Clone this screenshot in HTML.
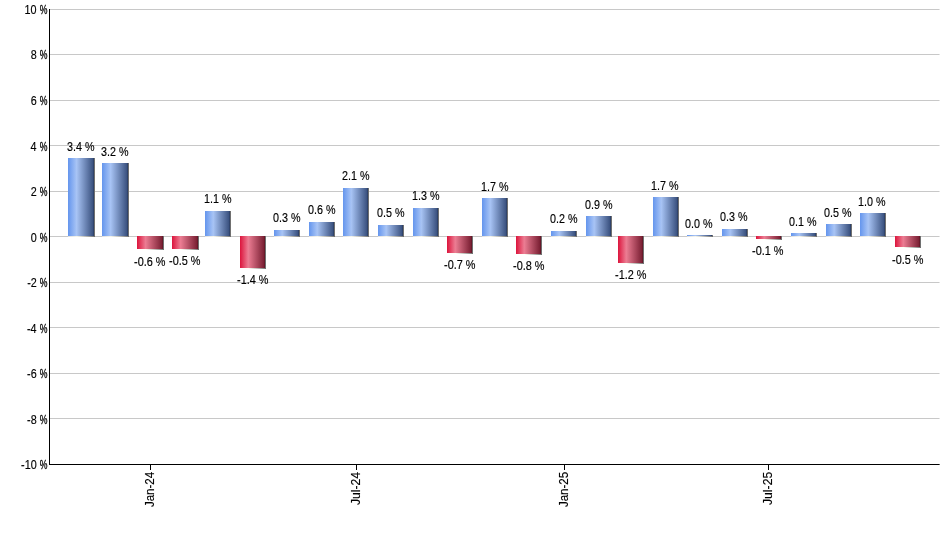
<!DOCTYPE html>
<html><head><meta charset="utf-8"><title>Chart</title>
<style>
html,body{margin:0;padding:0;background:#fff;}
svg{display:block}
text{font-family:"Liberation Sans",sans-serif;font-size:12px;fill:#000;stroke:#000;stroke-width:0.15px}
</style></head><body>
<svg width="940" height="550" viewBox="0 0 940 550">
<defs>
<linearGradient id="gb" x1="0" x2="1" y1="0" y2="0">
<stop offset="0" stop-color="#6495ed"/>
<stop offset="0.33" stop-color="#a8c4f5"/>
<stop offset="1" stop-color="#344b79"/>
</linearGradient>
<linearGradient id="gr" x1="0" x2="1" y1="0" y2="0">
<stop offset="0" stop-color="#dc143c"/>
<stop offset="0.33" stop-color="#ec7d93"/>
<stop offset="1" stop-color="#741a2e"/>
</linearGradient>
<linearGradient id="gs" x1="0" x2="1" y1="0" y2="0">
<stop offset="0" stop-color="#ffffff" stop-opacity="0.4"/>
<stop offset="0.33" stop-color="#fffff4" stop-opacity="0.8"/>
<stop offset="1" stop-color="#707070" stop-opacity="1"/>
</linearGradient>
</defs>
<rect width="940" height="550" fill="#fff"/>

<g shape-rendering="crispEdges">
<rect x="50" y="9" width="889" height="1" fill="#c8c8c8"/><rect x="939" y="9" width="1" height="1" fill="#e2e2e2"/>
<rect x="50" y="54" width="889" height="1" fill="#c8c8c8"/><rect x="939" y="54" width="1" height="1" fill="#e2e2e2"/>
<rect x="50" y="100" width="889" height="1" fill="#c8c8c8"/><rect x="939" y="100" width="1" height="1" fill="#e2e2e2"/>
<rect x="50" y="145" width="889" height="1" fill="#c8c8c8"/><rect x="939" y="145" width="1" height="1" fill="#e2e2e2"/>
<rect x="50" y="191" width="889" height="1" fill="#c8c8c8"/><rect x="939" y="191" width="1" height="1" fill="#e2e2e2"/>
<rect x="50" y="236" width="889" height="1" fill="#c8c8c8"/><rect x="939" y="236" width="1" height="1" fill="#e2e2e2"/>
<rect x="50" y="282" width="889" height="1" fill="#c8c8c8"/><rect x="939" y="282" width="1" height="1" fill="#e2e2e2"/>
<rect x="50" y="327" width="889" height="1" fill="#c8c8c8"/><rect x="939" y="327" width="1" height="1" fill="#e2e2e2"/>
<rect x="50" y="373" width="889" height="1" fill="#c8c8c8"/><rect x="939" y="373" width="1" height="1" fill="#e2e2e2"/>
<rect x="50" y="418" width="889" height="1" fill="#c8c8c8"/><rect x="939" y="418" width="1" height="1" fill="#e2e2e2"/>
</g>
<g shape-rendering="crispEdges">
<rect x="68" y="236" width="27" height="1" fill="url(#gs)"/>
<rect x="94" y="158" width="1" height="79" fill="#707070"/>
<rect x="68" y="158" width="26" height="78" fill="url(#gb)"/>
<rect x="93" y="158" width="1" height="78" fill="#000" fill-opacity="0.13"/>
<rect x="102" y="236" width="27" height="1" fill="url(#gs)"/>
<rect x="128" y="163" width="1" height="74" fill="#707070"/>
<rect x="102" y="163" width="26" height="73" fill="url(#gb)"/>
<rect x="127" y="163" width="1" height="73" fill="#000" fill-opacity="0.13"/>
<rect x="137" y="249" width="27" height="1" fill="url(#gs)"/>
<rect x="163" y="236" width="1" height="14" fill="#707070"/>
<rect x="137" y="236" width="26" height="13" fill="url(#gr)"/>
<rect x="162" y="236" width="1" height="13" fill="#000" fill-opacity="0.13"/>
<rect x="172" y="249" width="27" height="1" fill="url(#gs)"/>
<rect x="198" y="236" width="1" height="14" fill="#707070"/>
<rect x="172" y="236" width="26" height="13" fill="url(#gr)"/>
<rect x="197" y="236" width="1" height="13" fill="#000" fill-opacity="0.13"/>
<rect x="205" y="236" width="26" height="1" fill="url(#gs)"/>
<rect x="230" y="211" width="1" height="26" fill="#707070"/>
<rect x="205" y="211" width="25" height="25" fill="url(#gb)"/>
<rect x="229" y="211" width="1" height="25" fill="#000" fill-opacity="0.13"/>
<rect x="240" y="268" width="26" height="1" fill="url(#gs)"/>
<rect x="265" y="236" width="1" height="33" fill="#707070"/>
<rect x="240" y="236" width="25" height="32" fill="url(#gr)"/>
<rect x="264" y="236" width="1" height="32" fill="#000" fill-opacity="0.13"/>
<rect x="274" y="236" width="26" height="1" fill="url(#gs)"/>
<rect x="299" y="230" width="1" height="7" fill="#707070"/>
<rect x="274" y="230" width="25" height="6" fill="url(#gb)"/>
<rect x="298" y="230" width="1" height="6" fill="#000" fill-opacity="0.13"/>
<rect x="309" y="236" width="26" height="1" fill="url(#gs)"/>
<rect x="334" y="222" width="1" height="15" fill="#707070"/>
<rect x="309" y="222" width="25" height="14" fill="url(#gb)"/>
<rect x="333" y="222" width="1" height="14" fill="#000" fill-opacity="0.13"/>
<rect x="343" y="236" width="26" height="1" fill="url(#gs)"/>
<rect x="368" y="188" width="1" height="49" fill="#707070"/>
<rect x="343" y="188" width="25" height="48" fill="url(#gb)"/>
<rect x="367" y="188" width="1" height="48" fill="#000" fill-opacity="0.13"/>
<rect x="378" y="236" width="26" height="1" fill="url(#gs)"/>
<rect x="403" y="225" width="1" height="12" fill="#707070"/>
<rect x="378" y="225" width="25" height="11" fill="url(#gb)"/>
<rect x="402" y="225" width="1" height="11" fill="#000" fill-opacity="0.13"/>
<rect x="413" y="236" width="26" height="1" fill="url(#gs)"/>
<rect x="438" y="208" width="1" height="29" fill="#707070"/>
<rect x="413" y="208" width="25" height="28" fill="url(#gb)"/>
<rect x="437" y="208" width="1" height="28" fill="#000" fill-opacity="0.13"/>
<rect x="447" y="253" width="26" height="1" fill="url(#gs)"/>
<rect x="472" y="236" width="1" height="18" fill="#707070"/>
<rect x="447" y="236" width="25" height="17" fill="url(#gr)"/>
<rect x="471" y="236" width="1" height="17" fill="#000" fill-opacity="0.13"/>
<rect x="482" y="236" width="26" height="1" fill="url(#gs)"/>
<rect x="507" y="198" width="1" height="39" fill="#707070"/>
<rect x="482" y="198" width="25" height="38" fill="url(#gb)"/>
<rect x="506" y="198" width="1" height="38" fill="#000" fill-opacity="0.13"/>
<rect x="516" y="254" width="26" height="1" fill="url(#gs)"/>
<rect x="541" y="236" width="1" height="19" fill="#707070"/>
<rect x="516" y="236" width="25" height="18" fill="url(#gr)"/>
<rect x="540" y="236" width="1" height="18" fill="#000" fill-opacity="0.13"/>
<rect x="551" y="236" width="26" height="1" fill="url(#gs)"/>
<rect x="576" y="231" width="1" height="6" fill="#707070"/>
<rect x="551" y="231" width="25" height="5" fill="url(#gb)"/>
<rect x="575" y="231" width="1" height="5" fill="#000" fill-opacity="0.13"/>
<rect x="586" y="236" width="26" height="1" fill="url(#gs)"/>
<rect x="611" y="216" width="1" height="21" fill="#707070"/>
<rect x="586" y="216" width="25" height="20" fill="url(#gb)"/>
<rect x="610" y="216" width="1" height="20" fill="#000" fill-opacity="0.13"/>
<rect x="618" y="263" width="26" height="1" fill="url(#gs)"/>
<rect x="643" y="236" width="1" height="28" fill="#707070"/>
<rect x="618" y="236" width="25" height="27" fill="url(#gr)"/>
<rect x="642" y="236" width="1" height="27" fill="#000" fill-opacity="0.13"/>
<rect x="653" y="236" width="26" height="1" fill="url(#gs)"/>
<rect x="678" y="197" width="1" height="40" fill="#707070"/>
<rect x="653" y="197" width="25" height="39" fill="url(#gb)"/>
<rect x="677" y="197" width="1" height="39" fill="#000" fill-opacity="0.13"/>
<rect x="687" y="236" width="26" height="1" fill="url(#gs)"/>
<rect x="712" y="235" width="1" height="2" fill="#707070"/>
<rect x="687" y="235" width="25" height="1" fill="url(#gb)"/>
<rect x="711" y="235" width="1" height="1" fill="#000" fill-opacity="0.13"/>
<rect x="722" y="236" width="26" height="1" fill="url(#gs)"/>
<rect x="747" y="229" width="1" height="8" fill="#707070"/>
<rect x="722" y="229" width="25" height="7" fill="url(#gb)"/>
<rect x="746" y="229" width="1" height="7" fill="#000" fill-opacity="0.13"/>
<rect x="756" y="239" width="26" height="1" fill="url(#gs)"/>
<rect x="781" y="236" width="1" height="4" fill="#707070"/>
<rect x="756" y="236" width="25" height="3" fill="url(#gr)"/>
<rect x="780" y="236" width="1" height="3" fill="#000" fill-opacity="0.13"/>
<rect x="791" y="236" width="26" height="1" fill="url(#gs)"/>
<rect x="816" y="233" width="1" height="4" fill="#707070"/>
<rect x="791" y="233" width="25" height="3" fill="url(#gb)"/>
<rect x="815" y="233" width="1" height="3" fill="#000" fill-opacity="0.13"/>
<rect x="826" y="236" width="26" height="1" fill="url(#gs)"/>
<rect x="851" y="224" width="1" height="13" fill="#707070"/>
<rect x="826" y="224" width="25" height="12" fill="url(#gb)"/>
<rect x="850" y="224" width="1" height="12" fill="#000" fill-opacity="0.13"/>
<rect x="860" y="236" width="26" height="1" fill="url(#gs)"/>
<rect x="885" y="213" width="1" height="24" fill="#707070"/>
<rect x="860" y="213" width="25" height="23" fill="url(#gb)"/>
<rect x="884" y="213" width="1" height="23" fill="#000" fill-opacity="0.13"/>
<rect x="895" y="247" width="26" height="1" fill="url(#gs)"/>
<rect x="920" y="236" width="1" height="12" fill="#707070"/>
<rect x="895" y="236" width="25" height="11" fill="url(#gr)"/>
<rect x="919" y="236" width="1" height="11" fill="#000" fill-opacity="0.13"/>
</g>
<g shape-rendering="crispEdges">
<rect x="49" y="9" width="1" height="456" fill="#000"/>
<rect x="49" y="464" width="890" height="1" fill="#000"/><rect x="939" y="464" width="1" height="1" fill="#606060"/>
<rect x="150" y="464" width="1" height="6" fill="#000"/>
<rect x="356" y="464" width="1" height="6" fill="#000"/>
<rect x="564" y="464" width="1" height="6" fill="#000"/>
<rect x="768" y="464" width="1" height="6" fill="#000"/>
</g>
<text y="14"><tspan x="24.60" textLength="12.01" lengthAdjust="spacingAndGlyphs">10</tspan> <tspan x="39.63" textLength="7.68" lengthAdjust="spacingAndGlyphs" stroke-width="0.3">%</tspan></text>
<text y="59"><tspan x="30.67" textLength="6.01" lengthAdjust="spacingAndGlyphs">8</tspan> <tspan x="39.63" textLength="7.68" lengthAdjust="spacingAndGlyphs" stroke-width="0.3">%</tspan></text>
<text y="105"><tspan x="30.67" textLength="6.01" lengthAdjust="spacingAndGlyphs">6</tspan> <tspan x="39.63" textLength="7.68" lengthAdjust="spacingAndGlyphs" stroke-width="0.3">%</tspan></text>
<text y="151"><tspan x="30.56" textLength="6.01" lengthAdjust="spacingAndGlyphs">4</tspan> <tspan x="39.63" textLength="7.68" lengthAdjust="spacingAndGlyphs" stroke-width="0.3">%</tspan></text>
<text y="196"><tspan x="30.79" textLength="6.01" lengthAdjust="spacingAndGlyphs">2</tspan> <tspan x="39.63" textLength="7.68" lengthAdjust="spacingAndGlyphs" stroke-width="0.3">%</tspan></text>
<text y="242"><tspan x="30.67" textLength="6.01" lengthAdjust="spacingAndGlyphs">0</tspan> <tspan x="39.63" textLength="7.68" lengthAdjust="spacingAndGlyphs" stroke-width="0.3">%</tspan></text>
<text y="287"><tspan x="27.19" textLength="9.60" lengthAdjust="spacingAndGlyphs">-2</tspan> <tspan x="39.63" textLength="7.68" lengthAdjust="spacingAndGlyphs" stroke-width="0.3">%</tspan></text>
<text y="333"><tspan x="26.96" textLength="9.60" lengthAdjust="spacingAndGlyphs">-4</tspan> <tspan x="39.63" textLength="7.68" lengthAdjust="spacingAndGlyphs" stroke-width="0.3">%</tspan></text>
<text y="378"><tspan x="27.07" textLength="9.60" lengthAdjust="spacingAndGlyphs">-6</tspan> <tspan x="39.63" textLength="7.68" lengthAdjust="spacingAndGlyphs" stroke-width="0.3">%</tspan></text>
<text y="424"><tspan x="27.07" textLength="9.60" lengthAdjust="spacingAndGlyphs">-8</tspan> <tspan x="39.63" textLength="7.68" lengthAdjust="spacingAndGlyphs" stroke-width="0.3">%</tspan></text>
<text y="469"><tspan x="21.11" textLength="15.61" lengthAdjust="spacingAndGlyphs">-10</tspan> <tspan x="39.63" textLength="7.68" lengthAdjust="spacingAndGlyphs" stroke-width="0.3">%</tspan></text>
<text transform="translate(154,507.12) rotate(-90) scale(0.9600,1)">Jan-24</text>
<text transform="translate(360,505.03) rotate(-90) scale(1.0140,1)">Jul-24</text>
<text transform="translate(568,507.12) rotate(-90) scale(0.9633,1)">Jan-25</text>
<text transform="translate(772,505.03) rotate(-90) scale(1.0179,1)">Jul-25</text>
<text transform="translate(67.01,151) scale(0.8967,1)">3.4 %</text>
<text transform="translate(101.01,156) scale(0.8967,1)">3.2 %</text>
<text transform="translate(134.01,266) scale(0.9088,1)">-0.6 %</text>
<text transform="translate(169.01,265) scale(0.9088,1)">-0.5 %</text>
<text transform="translate(204.01,203) scale(0.8967,1)">1.1 %</text>
<text transform="translate(237.01,284) scale(0.9088,1)">-1.4 %</text>
<text transform="translate(273.01,222) scale(0.8967,1)">0.3 %</text>
<text transform="translate(308.01,214) scale(0.8967,1)">0.6 %</text>
<text transform="translate(342.01,180) scale(0.8967,1)">2.1 %</text>
<text transform="translate(377.01,217) scale(0.8967,1)">0.5 %</text>
<text transform="translate(412.01,200) scale(0.8967,1)">1.3 %</text>
<text transform="translate(444.01,269) scale(0.9088,1)">-0.7 %</text>
<text transform="translate(481.01,191) scale(0.8967,1)">1.7 %</text>
<text transform="translate(513.01,270) scale(0.9088,1)">-0.8 %</text>
<text transform="translate(550.01,223) scale(0.8967,1)">0.2 %</text>
<text transform="translate(585.01,209) scale(0.8967,1)">0.9 %</text>
<text transform="translate(615.01,279) scale(0.9088,1)">-1.2 %</text>
<text transform="translate(651.01,190) scale(0.8967,1)">1.7 %</text>
<text transform="translate(685.01,228) scale(0.8967,1)">0.0 %</text>
<text transform="translate(720.01,221) scale(0.8967,1)">0.3 %</text>
<text transform="translate(752.01,255) scale(0.9088,1)">-0.1 %</text>
<text transform="translate(789.01,226) scale(0.8967,1)">0.1 %</text>
<text transform="translate(824.01,217) scale(0.8967,1)">0.5 %</text>
<text transform="translate(858.01,206) scale(0.8967,1)">1.0 %</text>
<text transform="translate(892.01,264) scale(0.9088,1)">-0.5 %</text>
</svg></body></html>
